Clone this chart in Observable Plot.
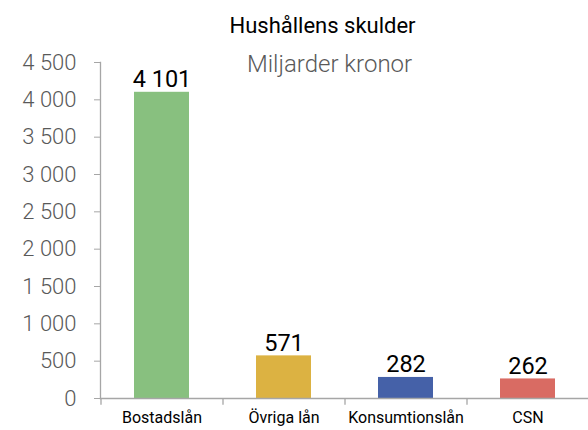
<!DOCTYPE html>
<html>
<head>
<meta charset="utf-8">
<script src="https://cdn.jsdelivr.net/npm/d3@7"></script>
<script src="https://cdn.jsdelivr.net/npm/@observablehq/plot@0.6"></script>
<style>
  html, body { margin: 0; padding: 0; background: #fff; }
  #chart { width: 588px; height: 430px; }
</style>
</head>
<body>
<div id="chart"></div>
<script>
const categories = ["Bostadslån", "Övriga lån", "Konsumtionslån", "CSN"];
const values = [4101, 571, 282, 262];
const colors = ["#88c07f", "#dcb242", "#4561a8", "#d96b63"];
const yTicks = [0, 500, 1000, 1500, 2000, 2500, 3000, 3500, 4000, 4500];
const title = "Hushållens skulder";
const subtitle = "Miljarder kronor";

const data = categories.map((c, i) => ({cat: c, value: values[i], color: colors[i]}));
const fmt = v => d3.format(",")(v).replace(/,/g, " ");

const W = 588, H = 430;
const mL = 100, mR = 0, mT = 62, mB = 32;
const bw = (W - mL - mR) / categories.length;

const chart = Plot.plot({
  width: W,
  height: H,
  marginLeft: mL,
  marginRight: mR,
  marginTop: mT,
  marginBottom: mB,
  style: {fontFamily: "Roboto, sans-serif", background: "#fff", overflow: "visible"},
  x: {domain: categories, padding: 0.55, paddingOuter: 0.275, label: null},
  y: {domain: [0, 4500], label: null},
  marks: [
    Plot.barY(data, {x: "cat", y: "value", fill: "color"}),
    Plot.frame({anchor: "left", stroke: "#a6a6a6", strokeWidth: 1.3}),
    Plot.frame({anchor: "bottom", stroke: "#a6a6a6", strokeWidth: 1.3}),
    Plot.ruleX(categories, {x: d => d, y1: 0, y2: -90, dx: -bw / 2, stroke: "#a6a6a6", strokeWidth: 1.3}),
    Plot.axisY({ticks: yTicks, tickSize: 6, tickPadding: 18, tickFormat: fmt, stroke: "#a6a6a6",
      fontSize: 22, fill: "#595959", fontWeight: 300, letterSpacing: 0.8, label: null}),
    Plot.axisX({tickSize: 0, tickPadding: 13, fontSize: 16, fill: "#000", label: null}),
    Plot.text(data, {x: "cat", y: "value", text: d => fmt(d.value), lineAnchor: "bottom", dy: -5,
      fontSize: 23.5, fill: "#000"}),
    Plot.text([title], {frameAnchor: "top-left", dx: 222, dy: -45, text: d => d, textAnchor: "middle",
      fontSize: 22, fill: "#000", letterSpacing: -0.5}),
    Plot.text([subtitle], {frameAnchor: "top-left", dx: 229, dy: -8, text: d => d, textAnchor: "middle",
      fontSize: 24, fill: "#595959", fontWeight: 300})
  ]
});
document.getElementById("chart").appendChild(chart);
</script>
</body>
</html>
